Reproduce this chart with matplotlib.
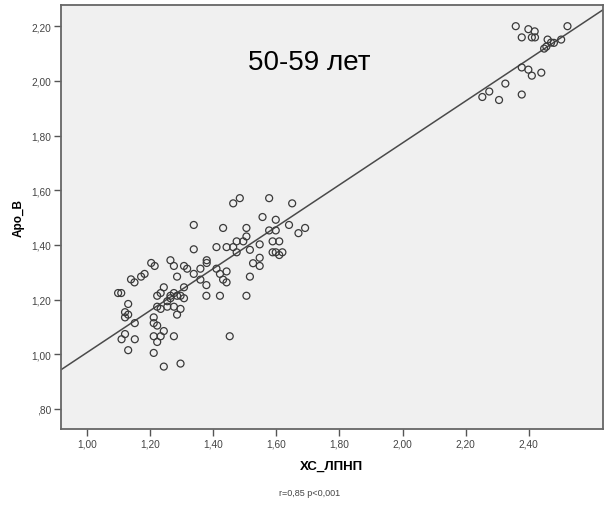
import numpy as np
import matplotlib
matplotlib.use("Agg")
import matplotlib.pyplot as plt
from matplotlib.ticker import FuncFormatter

plt.rcParams['font.family'] = ['Liberation Sans', 'DejaVu Sans']

# ================= DATA =================
# main cluster (XC_LDL, Apo_B)
x_main = [1.484, 1.463, 1.577, 1.650, 1.338, 1.431, 1.505, 1.556, 1.598, 1.577,
          1.598, 1.640, 1.691, 1.670, 1.505, 1.474, 1.495, 1.588, 1.609, 1.338,
          1.410, 1.442, 1.463, 1.516, 1.547, 1.474, 1.588, 1.598, 1.609, 1.619,
          1.547, 1.526, 1.547, 1.203, 1.214, 1.264, 1.275, 1.307, 1.317, 1.359,
          1.379, 1.379, 1.410, 1.442, 1.421, 1.431, 1.442, 1.338, 1.359, 1.285,
          1.378, 1.378, 1.421, 1.505, 1.516, 1.182, 1.171, 1.139, 1.150, 1.098,
          1.108, 1.130, 1.120, 1.120, 1.130, 1.151, 1.120, 1.109, 1.151, 1.130,
          1.243, 1.222, 1.233, 1.264, 1.275, 1.285, 1.307, 1.296, 1.307, 1.254,
          1.264, 1.222, 1.233, 1.254, 1.275, 1.296, 1.285, 1.211, 1.211, 1.222,
          1.243, 1.233, 1.211, 1.275, 1.222, 1.211, 1.243, 1.296, 1.452]
y_main = [1.571, 1.552, 1.571, 1.552, 1.473, 1.462, 1.462, 1.502, 1.492, 1.453,
          1.453, 1.473, 1.462, 1.443, 1.431, 1.413, 1.413, 1.413, 1.413, 1.384,
          1.392, 1.392, 1.392, 1.382, 1.402, 1.373, 1.373, 1.373, 1.363, 1.373,
          1.353, 1.333, 1.323, 1.334, 1.323, 1.344, 1.323, 1.323, 1.313, 1.313,
          1.344, 1.334, 1.313, 1.303, 1.294, 1.273, 1.263, 1.294, 1.273, 1.284,
          1.253, 1.214, 1.214, 1.214, 1.284, 1.294, 1.284, 1.274, 1.263, 1.224,
          1.224, 1.184, 1.154, 1.135, 1.145, 1.114, 1.074, 1.055, 1.055, 1.015,
          1.245, 1.214, 1.224, 1.214, 1.224, 1.214, 1.245, 1.214, 1.205, 1.194,
          1.205, 1.174, 1.166, 1.174, 1.174, 1.166, 1.145, 1.135, 1.114, 1.105,
          1.085, 1.066, 1.066, 1.066, 1.045, 1.005, 0.955, 0.966, 1.066]

# upper right cluster
x_high = [2.359, 2.399, 2.419, 2.378, 2.410, 2.420, 2.523, 2.460, 2.471, 2.480,
          2.503, 2.449, 2.456, 2.378, 2.399, 2.410, 2.440, 2.326, 2.275, 2.253,
          2.306, 2.378]
y_high = [2.200, 2.189, 2.181, 2.159, 2.159, 2.159, 2.200, 2.151, 2.140, 2.139,
          2.151, 2.118, 2.125, 2.049, 2.041, 2.019, 2.030, 1.990, 1.961, 1.941,
          1.930, 1.950]

# regression line
slope = 0.766
intercept = 0.241

x_ticks = [1.00, 1.20, 1.40, 1.60, 1.80, 2.00, 2.20, 2.40]
y_ticks = [0.80, 1.00, 1.20, 1.40, 1.60, 1.80, 2.00, 2.20]

# ================= PLOT =================
fig = plt.figure(figsize=(6.04, 5.10), dpi=100)
ax = fig.add_axes([0.101, 0.157, 0.897, 0.831])
ax.set_facecolor('#f0f0f0')

xs = np.array(x_main + x_high)
ys = np.array(y_main + y_high)
ax.scatter(xs, ys, s=25, facecolors='none', edgecolors='#3a3a3a', linewidths=0.9, zorder=3)

xlim = (0.917, 2.635)
ylim = (0.727, 2.277)
lx = np.array(xlim)
ax.plot(lx, intercept + slope * lx, color='#4a4a4a', lw=1.1, zorder=2)
ax.set_xlim(xlim)
ax.set_ylim(ylim)

def comma_fmt(v, pos):
    s = f"{v:.2f}".replace('.', ',')
    if s.startswith('0'):
        s = s[1:]
    return s

ax.set_xticks(x_ticks)
ax.set_yticks(y_ticks)
ax.xaxis.set_major_formatter(FuncFormatter(comma_fmt))
ax.yaxis.set_major_formatter(FuncFormatter(comma_fmt))
ax.tick_params(direction='out', length=5, width=1, colors='#555555',
               labelsize=7.3, labelcolor='#444444', pad=2)
for sp in ax.spines.values():
    sp.set_color('#666666')
    sp.set_linewidth(1.3)

ax.set_xlabel('ХС_ЛПНП', fontsize=9.5, fontweight='bold', labelpad=8)
ax.set_ylabel('Apo_B', fontsize=8.5, fontweight='bold', labelpad=5)

ax.text(0.458, 0.866, '50-59 лет', transform=ax.transAxes, fontsize=20,
        ha='center', va='center', color='black')
fig.text(0.513, 0.033, 'r=0,85 p<0,001', fontsize=6.5, ha='center',
         va='center', color='#444444')

plt.savefig('out.png', dpi=100)
